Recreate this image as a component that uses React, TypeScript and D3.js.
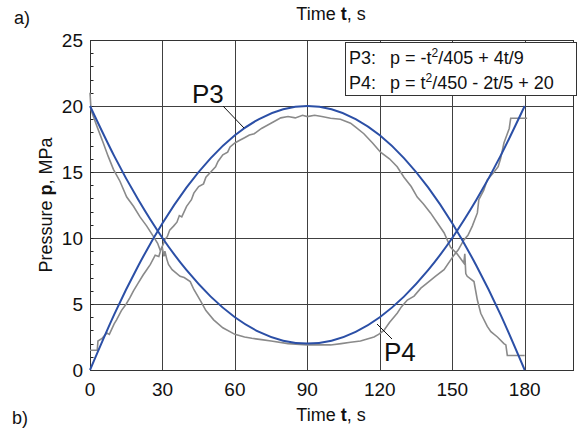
import React from "react";
import * as d3 from "d3";

// Fitted curves (blue), read at 10 s steps
const fitT = [0, 10, 20, 30, 40, 50, 60, 70, 80, 90, 100, 110, 120, 130, 140, 150, 160, 170, 180];
const fitP3 = [0, 4.2, 7.9, 11.11, 13.83, 16.05, 17.78, 19.01, 19.75, 20, 19.75, 19.01, 17.78, 16.05, 13.83, 11.11, 7.9, 4.2, 0];
const fitP4 = [20, 16.22, 12.89, 10, 7.56, 5.56, 4, 2.89, 2.22, 2, 2.22, 2.89, 4, 5.56, 7.56, 10, 12.89, 16.22, 20];

// Measured P3 (grey)
const measP3T = [0, 3, 3.3, 5, 7, 8, 10, 11, 13, 15, 16.6, 18, 20, 22, 23.5, 25, 27, 28.5, 29.5, 30.5, 31, 32, 33, 34.6, 36, 37, 38, 40, 42, 43, 45, 47, 48, 50, 52, 53, 55, 57, 58, 60, 62, 64, 66, 68, 71, 74, 77, 79, 82, 85, 88, 90, 93, 96, 99.6, 103.7, 107.9, 110, 113.4, 117, 120.3, 124, 127.2, 130, 133, 135.5, 138, 141, 144, 146.6, 149.3, 152, 154.8, 155.2, 155.6, 156.2, 159, 160.4, 161.8, 164.5, 166, 168.7, 171.4, 172.2, 172.8, 180];
const measP3P = [1.5, 1.5, 2.2, 2.4, 2.8, 2.7, 3.5, 3.8, 4.5, 5.0, 5.5, 6.0, 6.6, 7.2, 7.6, 8.0, 8.7, 8.6, 9.2, 9.6, 9.9, 10.1, 10.6, 10.9, 11.2, 11.7, 11.6, 12.4, 12.9, 13.4, 13.9, 14.1, 14.6, 15.0, 15.4, 15.8, 16.3, 16.5, 16.9, 17.2, 17.4, 17.6, 17.8, 17.9, 18.3, 18.6, 18.9, 19.1, 19.2, 19.1, 19.3, 19.2, 19.3, 19.2, 19.07, 19.0, 18.7, 18.4, 17.9, 17.2, 16.5, 16.0, 15.4, 14.6, 13.9, 13.1, 12.6, 11.9, 11.1, 10.4, 9.3, 8.8, 8.1, 8.8, 7.3, 7.1, 6.7, 5.3, 4.3, 3.3, 2.9, 2.5, 2.0, 1.9, 1.1, 1.1];

// Measured P4 (grey)
const measP4T = [0, 0.4, 0.8, 1.4, 3, 5.5, 7.5, 9.7, 12.4, 15.2, 18, 20.7, 23.5, 26.3, 28, 29, 30, 30.6, 31, 31.8, 32.5, 34, 37.3, 39, 41.5, 43, 45.6, 48, 51.2, 55, 60, 64, 67, 71, 75, 82, 90, 95, 99.6, 104, 107.9, 112, 117.6, 119.5, 121.7, 124, 127.2, 129, 131.4, 134.2, 137, 139.7, 143, 146.6, 150.7, 152.5, 154.8, 156.5, 158.3, 160.4, 161, 163, 164.5, 167.3, 169, 170, 171.4, 172.8, 173.6, 174.2, 181];
const measP4P = [21, 19.8, 19.5, 19.2, 18.4, 17.2, 16.2, 15.2, 14.3, 13.1, 12.4, 11.6, 10.9, 10.1, 9.6, 9.1, 9.2, 8.6, 9.0, 8.4, 8.0, 7.6, 7.1, 7.0, 6.7, 6.1, 5.3, 4.5, 3.8, 3.2, 2.7, 2.5, 2.4, 2.3, 2.2, 2.0, 1.9, 1.9, 1.9, 2.0, 2.1, 2.2, 2.5, 2.7, 3.0, 3.6, 4.3, 4.8, 5.3, 5.6, 6.2, 6.6, 7.1, 7.6, 8.7, 9.1, 9.85, 10.2, 10.9, 11.9, 12.9, 13.6, 14.4, 15.0, 15.4, 16.0, 17.2, 17.9, 18.3, 19.07, 19.07];

const xTicks = [0, 30, 60, 90, 120, 150, 180];
const yTicks = [0, 5, 10, 15, 20, 25];
const yMinor = d3.range(0, 26, 1);

const FONT = "'Liberation Sans', Arial, sans-serif";

export default function App() {
  const W = 584, H = 428;
  const x = d3.scaleLinear().domain([0, 200]).range([90, 573]);
  const y = d3.scaleLinear().domain([0, 25]).range([370, 40]);
  const c = (v: number) => Math.round(v) + 0.5;

  const line = d3.line<[number, number]>().x(d => x(d[0])).y(d => y(d[1]));
  const smooth = d3.line<[number, number]>().x(d => x(d[0])).y(d => y(d[1])).curve(d3.curveNatural);

  const zip = (a: number[], b: number[]) => a.map((v, i) => [v, b[i]] as [number, number]);

  const blue = "#2b4fa6";
  const grey = "#8a8a8a";
  const gridC = "#404040";

  return (
    <div style={{ position: "absolute", left: 0, top: 0 }}>
      <svg width={W} height={H} style={{ display: "block", background: "#fff" }} fontFamily={FONT}>
        <rect width={W} height={H} fill="#fff" />
        {/* grid */}
        {xTicks.filter(t => t > 0).map(t => (
          <line key={"gx" + t} x1={c(x(t))} x2={c(x(t))} y1={y(25)} y2={y(0)} stroke={gridC} strokeWidth={1} />
        ))}
        {yTicks.filter(t => t > 0 && t < 25).map(t => (
          <line key={"gy" + t} x1={x(0)} x2={x(200)} y1={c(y(t))} y2={c(y(t))} stroke={gridC} strokeWidth={1} />
        ))}
        {/* minor ticks on y axis */}
        {yMinor.map(t => (
          <line key={"ym" + t} x1={c(x(0))} x2={c(x(0)) + 3} y1={c(y(t))} y2={c(y(t))} stroke="#222" strokeWidth={1} />
        ))}
        {/* frame */}
        <rect x={c(x(0))} y={c(y(25))} width={Math.round(x(200)) - Math.round(x(0))} height={Math.round(y(0)) - Math.round(y(25))} fill="none" stroke="#333" strokeWidth={1} />

        {/* measured */}
        <path d={line(zip(measP3T, measP3P)) || ""} fill="none" stroke={grey} strokeWidth={1.6} />
        <path d={line(zip(measP4T, measP4P)) || ""} fill="none" stroke={grey} strokeWidth={1.6} />
        {/* fitted */}
        <path d={smooth(zip(fitT, fitP3)) || ""} fill="none" stroke={blue} strokeWidth={2} />
        <path d={smooth(zip(fitT, fitP4)) || ""} fill="none" stroke={blue} strokeWidth={2} />

        {/* tick labels */}
        {xTicks.map(t => (
          <text key={"xl" + t} x={x(t)} y={396} fontSize={19} textAnchor="middle" fill="#111">{t}</text>
        ))}
        {yTicks.map(t => (
          <text key={"yl" + t} x={83} y={y(t) + 7} fontSize={19} textAnchor="end" fill="#111">{t}</text>
        ))}

        {/* axis titles */}
        <text x={331} y={20} fontSize={18} textAnchor="middle" fill="#111">
          Time <tspan fontWeight="bold">t</tspan>, s
        </text>
        <text x={331} y={421} fontSize={18} textAnchor="middle" fill="#111">
          Time <tspan fontWeight="bold">t</tspan>, s
        </text>
        <text transform={`translate(52,205) rotate(-90)`} fontSize={18} textAnchor="middle" fill="#111">
          Pressure <tspan fontWeight="bold">p</tspan>, MPa
        </text>
        <text x={14} y={24} fontSize={18} fill="#111">a)</text>
        <text x={12} y={424} fontSize={18} fill="#111">b)</text>

        {/* legend */}
        <rect x={345.5} y={42.5} width={231} height={53} fill="#fff" stroke="#333" strokeWidth={1} />
        <text x={349} y={64} fontSize={18} fill="#111">P3:</text>
        <text x={390} y={64} fontSize={18} fill="#111">
          p = -t<tspan fontSize={12} dy={-7}>2</tspan><tspan dy={7}>/405 + 4t/9</tspan>
        </text>
        <text x={349} y={89} fontSize={18} fill="#111">P4:</text>
        <text x={390} y={89} fontSize={18} fill="#111">
          p = t<tspan fontSize={12} dy={-7}>2</tspan><tspan dy={7}>/450 - 2t/5 + 20</tspan>
        </text>

        {/* curve labels */}
        <text x={192} y={103} fontSize={26} fill="#111">P3</text>
        <line x1={223} y1={106} x2={244} y2={128} stroke="#111" strokeWidth={1} />
        <text x={384} y={361} fontSize={26} fill="#111">P4</text>
        <line x1={377} y1={324} x2={392} y2={339} stroke="#111" strokeWidth={1} />
      </svg>
    </div>
  );
}
